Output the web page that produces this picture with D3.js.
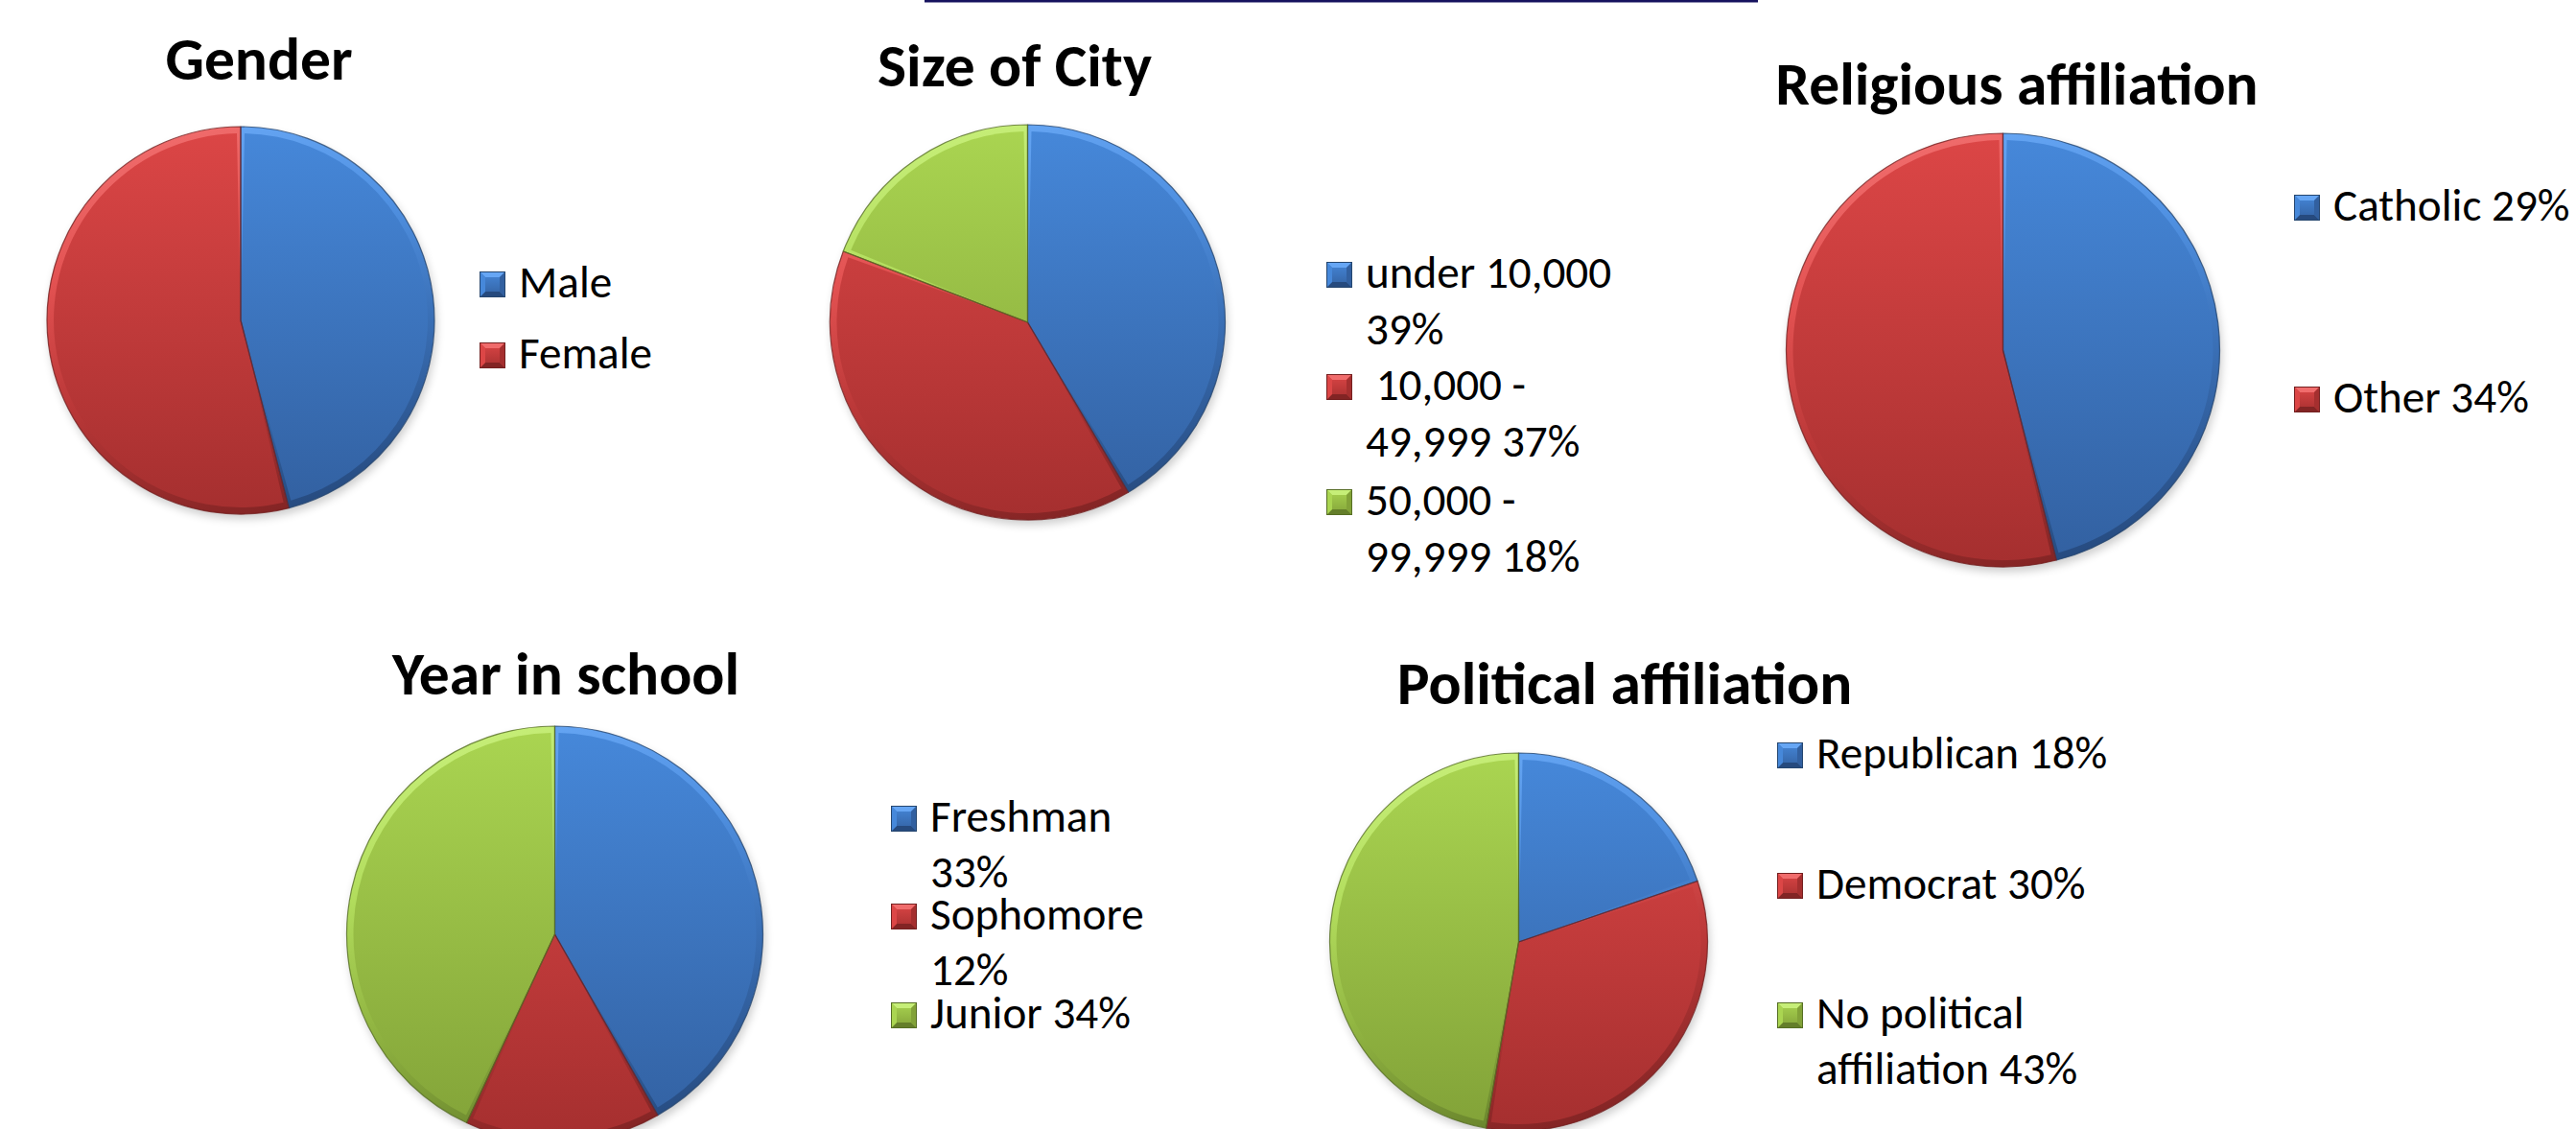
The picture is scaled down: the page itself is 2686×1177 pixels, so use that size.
<!DOCTYPE html>
<html><head><meta charset="utf-8">
<script src="https://cdn.jsdelivr.net/npm/d3@7"></script>
<style>html,body{margin:0;padding:0;background:#fff;} svg{display:block;}</style>
</head><body>
<svg id="c" width="2686" height="1177"></svg>
<script>
// ---- data ----
const titles = ["Gender", "Size of City", "Religious affiliation", "Year in school", "Political affiliation"];
const genderLabels = ["Male", "Female"];
const genderValues = [46, 54];
const cityLabels = ["under 10,000\n39%", " 10,000 -\n49,999 37%", "50,000 -\n99,999 18%"];
const cityValues = [39, 37, 18];
const religionLabels = ["Catholic 29%", "Other 34%"];
const religionValues = [29, 34];
const yearLabels = ["Freshman\n33%", "Sophomore\n12%", "Junior 34%"];
const yearValues = [33, 12, 34];
const politicalLabels = ["Republican 18%", "Democrat 30%", "No political\naffiliation 43%"];
const politicalValues = [18, 30, 43];
const seriesColors = ["blue", "red", "green"];

// ---- styling ----
const palette = {
  blue:  {top: "#4688da", bot: "#3260a0", rimTop: "#66a6f4", rimBot: "#264a7e", line: "#25466f"},
  red:   {top: "#dc4646", bot: "#a52f2f", rimTop: "#f06c6c", rimBot: "#822424", line: "#742020"},
  green: {top: "#aad551", bot: "#82a238", rimTop: "#c6ee78", rimBot: "#647e2a", line: "#566e24"}
};
const FONT = "Calibri, Carlito, Lato, 'Noto Sans', sans-serif";

const charts = [
  {title: titles[0], labels: genderLabels, values: genderValues,
   t: {x: 270, y: 83, w: 193}, pie: {cx: 251, cy: 334, r: 202}, lg: {x: 500, rows: [310, 384], lh: 58}},
  {title: titles[1], labels: cityLabels, values: cityValues,
   t: {x: 1058, y: 90, w: 287}, pie: {cx: 1071.5, cy: 336, r: 206}, lg: {x: 1383, rows: [300, 417, 537], lh: 59}},
  {title: titles[2], labels: religionLabels, values: religionValues,
   t: {x: 2103, y: 109, w: 505}, pie: {cx: 2088.5, cy: 365, r: 226}, lg: {x: 2392, rows: [230, 430], lh: 58}},
  {title: titles[3], labels: yearLabels, values: yearValues,
   t: {x: 590, y: 724, w: 362}, pie: {cx: 578.5, cy: 974, r: 217}, lg: {x: 929, rows: [867, 969, 1072], lh: 58}},
  {title: titles[4], labels: politicalLabels, values: politicalValues,
   t: {x: 1694, y: 734, w: 477}, pie: {cx: 1583.5, cy: 982, r: 197}, lg: {x: 1853, rows: [801, 937, 1072], lh: 58}}
];

const svg = d3.select("#c");
const defs = svg.append("defs");

// top rule
svg.append("rect").attr("x", 964).attr("y", 0).attr("width", 869).attr("height", 2.5).attr("fill", "#16125e");

// shadow filter
const sh = defs.append("filter").attr("id", "shadow").attr("x", "-20%").attr("y", "-20%").attr("width", "140%").attr("height", "140%");
sh.append("feGaussianBlur").attr("stdDeviation", 5);

// font fitting helper
function fitSize(strings, targets, weight) {
  const tmp = svg.append("g");
  const ratios = strings.map((s, i) => {
    const t = tmp.append("text").attr("font-family", FONT).attr("font-size", 100)
      .attr("font-weight", weight).style("white-space", "pre").text(s);
    return targets[i] / t.node().getComputedTextLength();
  });
  tmp.remove();
  return 100 * d3.mean(ratios);
}
const titleSize = fitSize(titles, charts.map(c => c.t.w), "bold");
const legendSize = fitSize(["Male", "Catholic 29%", "Republican 18%", "under 10,000", "Freshman", "Democrat 30%"],
                           [95, 247, 304, 257, 190, 284], "normal");

charts.forEach((c, ci) => {
  const g = svg.append("g");
  const {cx, cy, r} = c.pie;

  // title
  g.append("text").attr("x", c.t.x).attr("y", c.t.y).attr("text-anchor", "middle")
    .attr("font-family", FONT).attr("font-weight", "bold").attr("font-size", titleSize)
    .attr("fill", "#000").text(c.title);

  // gradients per chart (in the pie group's local coordinates, centred on 0,0)
  seriesColors.forEach(k => {
    const p = palette[k];
    const lg1 = defs.append("linearGradient").attr("id", `m${ci}${k}`).attr("gradientUnits", "userSpaceOnUse")
      .attr("x1", 0).attr("x2", 0).attr("y1", -r).attr("y2", r);
    lg1.append("stop").attr("offset", "0%").attr("stop-color", p.top);
    lg1.append("stop").attr("offset", "100%").attr("stop-color", p.bot);
    const lg2 = defs.append("linearGradient").attr("id", `r${ci}${k}`).attr("gradientUnits", "userSpaceOnUse")
      .attr("x1", -r * 0.25).attr("x2", r * 0.25).attr("y1", -r).attr("y2", r);
    lg2.append("stop").attr("offset", "0%").attr("stop-color", p.rimTop);
    lg2.append("stop").attr("offset", "30%").attr("stop-color", d3.interpolateRgb(p.rimTop, p.top)(0.7));
    lg2.append("stop").attr("offset", "60%").attr("stop-color", d3.interpolateRgb(p.top, p.bot)(0.6));
    lg2.append("stop").attr("offset", "100%").attr("stop-color", p.rimBot);
    // legend marker gradient
    const lg3 = defs.append("linearGradient").attr("id", `k${ci}${k}`).attr("x1", 0).attr("x2", 0).attr("y1", 0).attr("y2", 1);
    lg3.append("stop").attr("offset", "0%").attr("stop-color", p.top);
    lg3.append("stop").attr("offset", "100%").attr("stop-color", p.bot);
  });

  const pie = d3.pie().sort(null).value(d => d)(c.values);
  const arcO = d3.arc().innerRadius(0).outerRadius(r);
  const bevel = 7;
  const arcI = d3.arc().innerRadius(0).outerRadius(r - bevel).padAngle(8 / (r - bevel));

  const pg = g.append("g").attr("transform", `translate(${cx},${cy})`);
  // soft shadow
  pg.append("circle").attr("cx", 2).attr("cy", 5).attr("r", r).attr("fill", "#000")
    .attr("opacity", 0.2).attr("filter", "url(#shadow)");

  pg.selectAll("path.o").data(pie).join("path").attr("class", "o")
    .attr("d", arcO)
    .attr("fill", (d, i) => `url(#r${ci}${seriesColors[i]})`);
  pg.selectAll("path.i").data(pie).join("path").attr("class", "i")
    .attr("d", arcI)
    .attr("fill", (d, i) => `url(#m${ci}${seriesColors[i]})`);
  pg.selectAll("path.s").data(pie).join("path").attr("class", "s")
    .attr("d", arcO).attr("fill", "none")
    .attr("stroke", (d, i) => palette[seriesColors[i]].line).attr("stroke-width", 1.2)
    .attr("stroke-linejoin", "round").attr("stroke-opacity", 0.8);

  // legend
  const sq = 27;
  c.labels.forEach((lab, i) => {
    const k = seriesColors[i];
    const p = palette[k];
    const by = c.lg.rows[i];
    const x0 = c.lg.x, y0 = by - sq, b = 6;
    const lgp = g.append("g");
    lgp.append("rect").attr("x", x0).attr("y", y0).attr("width", sq).attr("height", sq)
      .attr("fill", `url(#k${ci}${k})`);
    lgp.append("polygon").attr("points", `${x0},${y0} ${x0 + sq},${y0} ${x0 + sq - b},${y0 + b} ${x0 + b},${y0 + b}`)
      .attr("fill", p.rimTop);
    lgp.append("polygon").attr("points", `${x0},${y0 + sq} ${x0 + sq},${y0 + sq} ${x0 + sq - b},${y0 + sq - b} ${x0 + b},${y0 + sq - b}`)
      .attr("fill", p.rimBot);
    lgp.append("polygon").attr("points", `${x0},${y0} ${x0 + b},${y0 + b} ${x0 + b},${y0 + sq - b} ${x0},${y0 + sq}`)
      .attr("fill", p.top);
    lgp.append("polygon").attr("points", `${x0 + sq},${y0} ${x0 + sq - b},${y0 + b} ${x0 + sq - b},${y0 + sq - b} ${x0 + sq},${y0 + sq}`)
      .attr("fill", p.bot);
    lgp.append("rect").attr("x", x0 + 0.5).attr("y", y0 + 0.5).attr("width", sq - 1).attr("height", sq - 1)
      .attr("fill", "none").attr("stroke", p.line).attr("stroke-width", 1);

    lab.split("\n").forEach((line, li) => {
      g.append("text").attr("x", x0 + 41).attr("y", by + li * c.lg.lh)
        .attr("font-family", FONT).attr("font-size", legendSize).attr("fill", "#000")
        .style("white-space", "pre").text(line);
    });
  });
});
</script>
</body></html>
